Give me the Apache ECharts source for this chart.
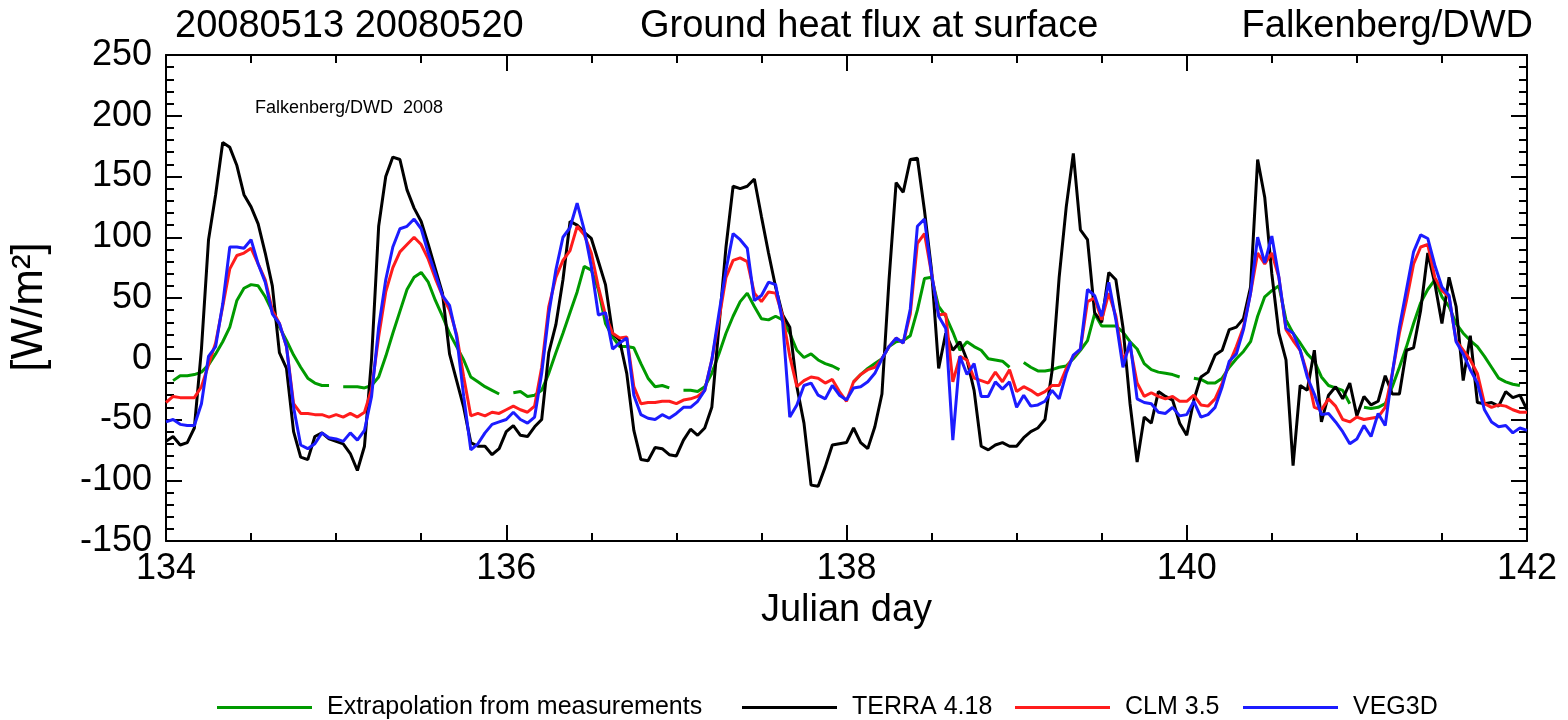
<!DOCTYPE html>
<html>
<head>
<meta charset="utf-8">
<script src="https://cdn.jsdelivr.net/npm/echarts@6/dist/echarts.min.js"></script>
<style>
html,body{margin:0;padding:0;background:#fff;}
#chart{width:1568px;height:720px;}
</style>
</head>
<body>
<div id="chart"></div>
<script>
// Hourly values from day 134.0 to 142.0 (193 samples each)
const startDay = 134;
const stepDay = 1 / 24;

const extrap = [null,-18,-14,-14,-13,-11,-5,4,14,26,48,58,61,60,51,39,26,15,3,-7,-16,-20,-22,-22,
null,-23,-23,-23,-24,-22,-15,2,21,39,57,67,71,63,48,35,21,10,-1,-15,-19,-23,-26,-29,
null,-28,-27,-31,-30,-26,-12,5,21,38,55,76,73,57,29,18,10,10,9,-4,-16,-23,-22,-24,
null,-26,-26,-27,-23,-12,4,21,35,47,54,43,33,32,35,32,21,7,1,4,-1,-4,-6,-9,
null,-19,-13,-8,-4,0,10,14,15,19,40,66,67,43,35,22,7,14,10,7,0,-1,-2,-7,
null,-3,-7,-10,-10,-9,-7,-6,0,7,15,37,27,27,27,22,14,8,-4,-9,-11,-12,-13,-15,
null,-16,-17,-20,-20,-16,-7,0,6,14,35,51,56,60,32,21,13,4,-2,-15,-22,-24,-26,-37,
null,-40,-41,-40,-37,-23,-7,10,29,46,57,65,51,43,29,21,15,10,2,-7,-16,-19,-21,-22,
null];

const terra = [-68,-64,-71,-69,-57,8,98,135,178,174,159,135,125,111,87,60,5,-8,-60,-81,-83,-64,-61,-66,
-68,-70,-78,-92,-72,0,109,150,166,164,139,124,113,94,74,54,4,-18,-40,-69,-72,-72,-79,-74,
-60,-55,-63,-64,-56,-50,5,28,65,113,110,104,99,80,61,21,15,-12,-59,-83,-84,-73,-74,-79,
-80,-67,-58,-63,-57,-40,26,92,142,140,142,148,117,87,59,36,26,-23,-53,-104,-105,-89,-71,-70,
-69,-57,-69,-74,-56,-29,65,145,137,164,165,122,73,-8,21,7,14,-1,-26,-72,-75,-71,-69,-72,
-72,-65,-60,-57,-50,-10,67,125,169,106,98,38,30,71,65,26,-37,-85,-48,-53,-27,-31,-34,-53,
-63,-34,-15,-11,3,7,24,26,33,59,164,133,70,21,-1,-88,-22,-26,7,-52,-30,-23,-33,-20,
-47,-31,-38,-35,-14,-29,-29,7,9,40,87,62,29,67,43,-18,19,-36,-37,-36,-39,-27,-32,-30,
-42];

const clm = [-36,-31,-32,-32,-32,-23,-5,13,43,74,85,87,91,78,65,40,29,10,-37,-45,-45,-46,-46,-48,
-46,-48,-45,-48,-44,-25,18,55,75,88,94,100,94,82,66,52,40,20,-15,-47,-45,-47,-44,-45,
-42,-39,-42,-44,-39,-7,43,67,81,89,109,102,87,59,36,21,17,18,-23,-37,-36,-36,-35,-35,
-37,-34,-33,-31,-26,-1,32,67,81,83,80,54,47,55,54,35,2,-23,-18,-15,-16,-20,-17,-27,
-35,-19,-13,-9,-7,0,10,17,13,37,95,103,70,36,37,-19,2,-1,-16,-18,-20,-11,-19,-9,
-27,-23,-26,-30,-27,-22,-22,-8,2,8,47,50,32,54,35,-1,10,-20,-31,-28,-31,-33,-31,-35,
-35,-30,-38,-39,-33,-20,-4,10,26,54,87,78,87,67,24,15,7,-12,-40,-42,-33,-39,-50,-52,
-48,-50,-49,-48,-40,-12,21,48,78,92,94,67,56,51,15,7,-1,-12,-37,-40,-38,-39,-42,-44,
-44];

const veg3d = [-52,-50,-54,-55,-55,-37,2,10,45,92,92,91,98,78,63,37,29,10,-40,-71,-74,-70,-61,-65,
-66,-68,-61,-67,-59,-31,26,65,92,107,109,115,107,87,70,52,44,18,-31,-75,-70,-61,-54,-52,
-50,-44,-50,-53,-48,-12,37,73,100,108,128,106,76,36,38,8,13,17,-30,-46,-49,-50,-46,-49,
-45,-40,-40,-35,-26,-1,37,73,103,98,91,48,52,63,61,30,-48,-38,-22,-20,-30,-33,-22,-30,
-34,-24,-23,-19,-12,0,10,17,13,41,109,115,70,35,25,-67,2,-13,-4,-31,-31,-19,-25,-19,
-40,-30,-39,-38,-35,-26,-33,-12,3,8,57,52,35,63,32,-7,14,-33,-36,-37,-44,-45,-40,-47,
-46,-35,-48,-46,-40,-23,-2,4,24,54,100,79,101,67,25,21,7,-15,-29,-46,-45,-52,-60,-70,
-66,-55,-64,-45,-55,-12,26,57,88,102,99,77,59,52,14,4,-9,-20,-42,-52,-56,-55,-61,-57,
-59];

const seriesNames = ['Extrapolation from measurements', 'TERRA 4.18', 'CLM 3.5', 'VEG3D'];
const seriesColors = ['#009a00', '#000000', '#ff1c1c', '#1c1cff'];
const seriesValues = [extrap, terra, clm, veg3d];
const legendLefts = [217, 742, 1015, 1243];

function toPairs(arr) {
  return arr.map((v, i) => [startDay + i * stepDay, v]);
}

const FONT = 'Liberation Sans, Arial, Helvetica, sans-serif';
const chart = echarts.init(document.getElementById('chart'), null, {renderer: 'canvas'});

const axisLineStyle = {color: '#000', width: 2};
const baseX = {
  type: 'value', min: 134, max: 142, interval: 2,
  axisLine: {show: true, onZero: false, lineStyle: axisLineStyle},
  axisTick: {show: true, inside: true, length: 16, lineStyle: {color: '#000', width: 2}},
  minorTick: {show: true, splitNumber: 4, length: 8, lineStyle: {color: '#000', width: 2}},
  splitLine: {show: false},
  minorSplitLine: {show: false}
};
const baseY = {
  type: 'value', min: -150, max: 250, interval: 50,
  axisLine: {show: true, onZero: false, lineStyle: axisLineStyle},
  axisTick: {show: true, inside: true, length: 16, lineStyle: {color: '#000', width: 2}},
  minorTick: {show: true, splitNumber: 5, length: 8, lineStyle: {color: '#000', width: 2}},
  splitLine: {show: false},
  minorSplitLine: {show: false}
};

const titleStyle = {fontSize: 38, fontWeight: 'normal', color: '#000', fontFamily: FONT};

const option = {
  animation: false,
  backgroundColor: '#fff',
  textStyle: {fontFamily: FONT},
  title: [
    {text: '20080513 20080520', left: 175, top: 8, padding: 0, textStyle: titleStyle},
    {text: 'Ground heat flux at surface', left: 640, top: 8, padding: 0, textStyle: titleStyle},
    {text: 'Falkenberg/DWD', right: 35, top: 8, padding: 0, textStyle: titleStyle},
    {text: 'Falkenberg/DWD  2008', left: 255, top: 99, padding: 0, textStyle: {fontSize: 18, fontWeight: 'normal', color: '#000', fontFamily: FONT}}
  ],
  grid: {left: 166, top: 55, width: 1361, height: 486, containLabel: false},
  xAxis: [
    Object.assign({}, baseX, {
      position: 'bottom',
      axisLabel: {show: true, fontSize: 36, color: '#000', margin: 10, fontFamily: FONT},
      name: 'Julian day', nameLocation: 'middle', nameGap: 44,
      nameTextStyle: {fontSize: 38, color: '#000', fontFamily: FONT}
    }),
    Object.assign({}, baseX, {position: 'top', axisLabel: {show: false}})
  ],
  yAxis: [
    Object.assign({}, baseY, {
      position: 'left',
      axisLabel: {show: true, fontSize: 36, color: '#000', margin: 14, fontFamily: FONT}
    }),
    Object.assign({}, baseY, {position: 'right', axisLabel: {show: false}})
  ],
  graphic: [
    {type: 'text', x: 30, y: 307, rotation: Math.PI / 2,
     style: {text: '[W/m²]', fontSize: 44, fill: '#000', fontFamily: FONT, textAlign: 'center', textVerticalAlign: 'middle'}}
  ],
  legend: seriesNames.map((name, k) => ({
    left: legendLefts[k], top: 695, padding: 0, itemWidth: 95, itemHeight: 3, icon: 'rect',
    textStyle: {fontSize: 25, color: '#000', fontFamily: FONT, padding: [0, 0, 0, 10]},
    data: [name]
  })),
  series: seriesNames.map((name, k) => ({
    name: name,
    type: 'line',
    xAxisIndex: 0, yAxisIndex: 0,
    data: toPairs(seriesValues[k]),
    showSymbol: false, symbol: 'none',
    connectNulls: false,
    color: seriesColors[k],
    lineStyle: {color: seriesColors[k], width: 3},
    z: 2 + k
  }))
};
chart.setOption(option);
</script>
</body>
</html>
